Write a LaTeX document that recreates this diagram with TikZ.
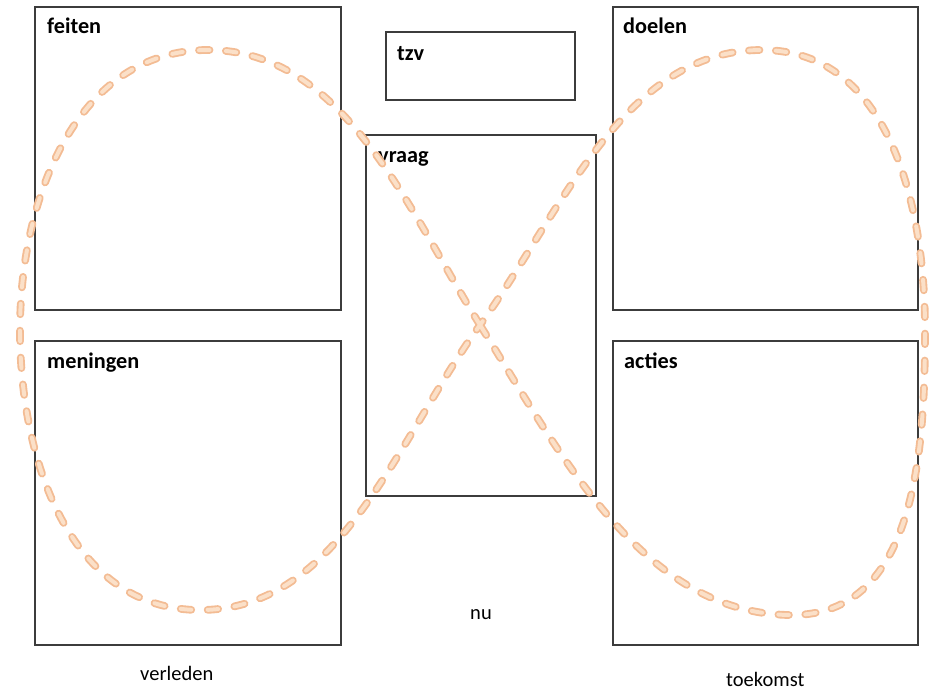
\documentclass[tikz,border=0pt]{standalone}
\usepackage{fontspec}
\setmainfont{Carlito}
\begin{document}
\begin{tikzpicture}[x=0.03cm, y=-0.03cm,
  vak/.style={draw={rgb,255:red,60;green,60;blue,60}, line width=1.2pt},
  kop/.style={font=\fontsize{19}{22}\selectfont\bfseries, inner sep=0pt, anchor=base west},
  tijd/.style={font=\fontsize{17.5}{20}\selectfont, inner sep=0pt, anchor=base west},
  lus/.style={draw={rgb,255:red,243;green,188;blue,148}, line width=1.6pt,
    double={rgb,255:red,251;green,224;blue,200}, double distance=3.4pt,
    line cap=round, dash pattern=on 9pt off 14pt}]
\useasboundingbox (0,0) rectangle (937,692);

% Kaders
\draw [vak] (35,7) rectangle (341,310);
\node [kop] (feiten) at (47,33) {feiten};
\draw [vak] (35,341) rectangle (341,645);
\node [kop] (meningen) at (47,368) {meningen};
\draw [vak] (386,32) rectangle (575,100);
\node [kop] (tzv) at (397,60) {tzv};
\draw [vak] (366,135) rectangle (596,496);
\node [kop] (vraag) at (378,162) {vraag};
\draw [vak] (613,7) rectangle (918,310);
\node [kop] (doelen) at (623,33) {doelen};
\draw [vak] (613,341) rectangle (918,645);
\node [kop] (acties) at (624,368) {acties};

% Acht
\coordinate (kruis) at (480,325);
\draw [lus] (kruis) to[out=122,in=0,looseness=0.9] (208,50) to[out=180,in=90] (20,330)
  to[out=-90,in=180] (200,610) to[out=0,in=-126,looseness=0.9] (kruis)
  to[out=54,in=180,looseness=0.9] (762,50) to[out=0,in=90] (925,330)
  to[out=-90,in=0] (792,615) to[out=180,in=-58,looseness=0.9] (kruis);

% Tijd
\node [tijd] (verleden) at (140,680) {verleden};
\node [tijd] (nu) at (470,619) {nu};
\node [tijd] (toekomst) at (726,686) {toekomst};
\end{tikzpicture}
\end{document}
